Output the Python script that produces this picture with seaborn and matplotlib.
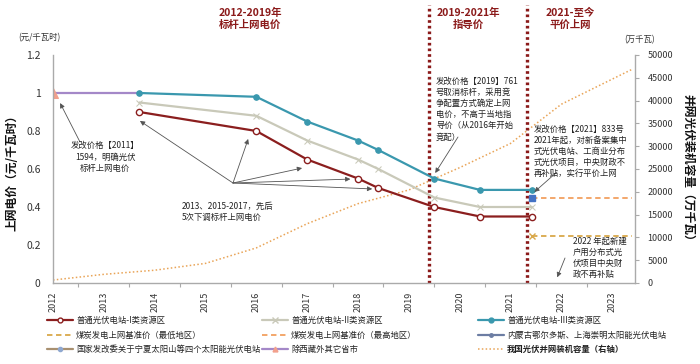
import matplotlib
matplotlib.use('Agg')
import matplotlib.pyplot as plt
from matplotlib.lines import Line2D
from matplotlib.ticker import MultipleLocator
import seaborn as sns

# 电价调整时点（年）与各资源区上网电价（元/千瓦时）
price_years = [2013.7, 2016.0, 2017.0, 2018.0, 2018.4, 2019.5, 2020.4, 2021.42]
price_class1 = [0.90, 0.80, 0.65, 0.55, 0.50, 0.40, 0.35, 0.35]
price_class2 = [0.95, 0.88, 0.75, 0.65, 0.60, 0.45, 0.40, 0.40]
price_class3 = [1.00, 0.98, 0.85, 0.75, 0.70, 0.55, 0.49, 0.49]

# 除西藏外其它省市
early_years = [2012.0, 2013.7]
early_price = [1.0, 1.0]

# 煤电基准价
coal_years = [2021.42, 2023.4]
coal_low = [0.247, 0.247]
coal_high = [0.447, 0.447]

# 并网装机容量（万千瓦）
cap_years = [2012, 2013, 2014, 2015, 2016, 2017, 2018, 2019, 2020, 2021, 2022, 2023.4]
cap_values = [650, 1900, 2800, 4300, 7700, 13000, 17400, 20400, 25300, 30600, 39200, 46900]

policy_breaks = [2019.40, 2021.33]
year_ticks = list(range(2012, 2024))
left_ticks = [0, 0.2, 0.4, 0.6, 0.8, 1.0, 1.2]
left_labels = ['0', '0.2', '0.4', '0.6', '0.8', '1', '1.2']

RED = '#8B1E1E'
GRAY = '#C9C9B9'
TEAL = '#3A98AE'
PURPLE = '#A488C8'
SALMON = '#F2A08C'
GOLD = '#D9A84A'
ORANGE = '#F2A060'
CAP = '#E9A457'
BREAK = '#8B1A1A'
SPINE = '#AAAAAA'

sns.set_theme(style='white')
plt.rcParams['font.family'] = ['Noto Sans CJK SC', 'DejaVu Sans']
plt.rcParams['axes.unicode_minus'] = False

W, H = 700, 364
def fp(x, y):
    return (x / W, 1 - y / H)

fig = plt.figure(figsize=(7, 3.64), dpi=100)
ax = fig.add_axes([53 / W, 1 - 283 / H, (635 - 53) / W, (283 - 55) / H])
ax2 = ax.twinx()

# 右轴：装机容量
sns.lineplot(x=cap_years, y=cap_values, ax=ax2, color=CAP, lw=1.1,
             linestyle=(0, (1, 1.5)), sort=False, estimator=None, legend=False)
ax2.set_ylim(0, 50000)
ax2.yaxis.set_major_locator(MultipleLocator(5000))

# 左轴：电价
sns.lineplot(x=early_years, y=early_price, ax=ax, color=PURPLE, lw=1.6, marker='^',
             markersize=7, markerfacecolor=SALMON, markeredgecolor=SALMON,
             markevery=[0], sort=False, estimator=None, legend=False)
sns.lineplot(x=price_years, y=price_class3, ax=ax, color=TEAL, lw=1.6, marker='o',
             markersize=4, markeredgecolor=TEAL, sort=False, estimator=None, legend=False)
sns.lineplot(x=price_years, y=price_class2, ax=ax, color=GRAY, lw=1.6, marker='x',
             markersize=5, markeredgecolor=GRAY, sort=False, estimator=None, legend=False)
sns.lineplot(x=price_years, y=price_class1, ax=ax, color=RED, lw=1.6, marker='o',
             markersize=4.5, markerfacecolor='white', markeredgecolor=RED,
             markeredgewidth=1, sort=False, estimator=None, legend=False)
sns.lineplot(x=coal_years, y=coal_high, ax=ax, color=ORANGE, lw=1.3, linestyle=(0, (3, 2)),
             sort=False, estimator=None, legend=False)
sns.lineplot(x=coal_years, y=coal_low, ax=ax, color=GOLD, lw=1.3, linestyle=(0, (3, 2)),
             sort=False, estimator=None, legend=False)
ax.plot(coal_years[:1], coal_high[:1], marker='s', ms=5, color='#4472C4', ls='none')
ax.plot(coal_years[:1], coal_low[:1], marker='x', ms=5, color=GOLD, ls='none')

for xb in policy_breaks:
    ax.axvline(xb, ymin=0, ymax=(283 - 5) / (283 - 55), color=BREAK, lw=2.4,
               linestyle=(0, (0.8, 0.9)), clip_on=False, zorder=1)

ax.set_xlim(2012, 2023.45)
ax.set_ylim(0, 1.2)
ax.set_xticks(year_ticks)
ax.set_xticklabels([str(y) for y in year_ticks], rotation=90, fontsize=6.5)
ax.xaxis.set_minor_locator(MultipleLocator(0.5))
ax.set_yticks(left_ticks)
ax.set_yticklabels(left_labels, fontsize=7.5)
ax.tick_params(axis='x', which='both', direction='out', colors='#333333', pad=2)
ax.tick_params(axis='x', which='major', length=4, color=SPINE, width=0.8)
ax.tick_params(axis='x', which='minor', bottom=True, length=3, color=SPINE, width=0.8)
ax.tick_params(axis='y', length=0, pad=9, colors='#333333')
ax2.tick_params(axis='y', direction='out', length=3, color=SPINE, width=0.8, pad=6,
                labelsize=6.5, colors='#333333')
ax.set_xlabel('')
ax.set_ylabel('')
ax2.set_ylabel('')
ax.grid(False)
ax2.grid(False)
for a in (ax, ax2):
    a.spines['top'].set_visible(False)
ax.spines['right'].set_visible(False)
ax2.spines['left'].set_visible(False)
ax2.spines['bottom'].set_visible(False)
for s in ('left', 'bottom'):
    ax.spines[s].set_color(SPINE)
    ax.spines[s].set_linewidth(1)
ax2.spines['right'].set_color(SPINE)
ax2.spines['right'].set_linewidth(1)
ax.set_zorder(ax2.get_zorder() + 1)
ax.patch.set_visible(False)

# 阶段标题
for x, txt in [(250, '2012-2019年\n标杆上网电价'), (468, '2019-2021年\n指导价'),
               (570, '2021-至今\n平价上网')]:
    fig.text(*fp(x, 19), txt, ha='center', va='center', fontsize=7.5,
             fontweight='bold', color=BREAK, linespacing=1.15)

fig.text(*fp(39, 38), '(元/千瓦时)', ha='center', va='center', fontsize=6, color='#333333')
fig.text(*fp(640, 40), '(万千瓦)', ha='center', va='center', fontsize=6, color='#333333')
fig.text(*fp(12, 170), '上网电价（元/千瓦时）', rotation=90, ha='center', va='center',
         fontsize=8.5, fontweight='bold', color='#111111')
fig.text(*fp(688, 170), '并网光伏装机容量（万千瓦）', rotation=270, ha='center', va='center',
         fontsize=8.5, fontweight='bold', color='#111111')

note = dict(fontsize=6, color='#222222', linespacing=1.3)
arrow = dict(arrowstyle='-|>', color='#555555', lw=0.6, mutation_scale=7,
             shrinkA=0, shrinkB=0)

fig.text(*fp(105, 157), '发改价格【2011】\n1594，明确光伏\n标杆上网电价',
         ha='center', va='center', **note)
ax.annotate('', xy=(2012.14, 0.947), xycoords='data', xytext=fp(80, 142),
            textcoords='figure fraction', arrowprops=arrow)

fig.text(*fp(182, 212), '2013、2015-2017，先后\n5次下调标杆上网电价',
         ha='left', va='center', **note)
for tx, ty in [(2013.71, 0.853), (2015.84, 0.758), (2016.90, 0.605),
               (2017.85, 0.547), (2018.28, 0.495)]:
    ax.annotate('', xy=(tx, ty), xycoords='data', xytext=fp(233, 183),
                textcoords='figure fraction', arrowprops=arrow)

fig.text(*fp(436, 77), '发改价格【2019】761\n号取消标杆，采用竞\n争配置方式确定上网\n'
         '电价，不高于当地指\n导价（从2016年开始\n竞配）', ha='left', va='top', **note)
ax.annotate('', xy=(2019.52, 0.579), xycoords='data', xytext=fp(458, 137),
            textcoords='figure fraction', arrowprops=arrow)

fig.text(*fp(534, 125), '发改价格【2021】833号\n2021年起，对新备案集中\n式光伏电站、工商业分布\n'
         '式光伏项目，中央财政不\n再补贴，实行平价上网', ha='left', va='top', **note)
ax.annotate('', xy=(2021.47, 0.479), xycoords='data', xytext=fp(557, 172),
            textcoords='figure fraction', arrowprops=arrow)

fig.text(*fp(573, 237), '2022 年起新建\n户用分布式光\n伏项目中央财\n政不再补贴',
         ha='left', va='top', **note)
ax.annotate('', xy=(2021.92, 0.03), xycoords='data', xytext=fp(565, 258),
            textcoords='figure fraction', arrowprops=arrow)

# 图例（三列）
def h(color, ls='-', marker=None, mfc=None, mec=None, ms=4, lw=1.6):
    return Line2D([], [], color=color, ls=ls, lw=lw, marker=marker,
                  markerfacecolor=mfc or color, markeredgecolor=mec or color, markersize=ms)

cols = [
    [(h(RED, marker='o', mfc='white', mec=RED, ms=3.5), '普通光伏电站-I类资源区'),
     (h(GOLD, ls=(0, (3, 2)), lw=1.3), '煤炭发电上网基准价（最低地区）'),
     (h('#A89070', marker='o', mfc='#8FA8D0', mec='#8FA8D0', ms=3), '国家发改委关于宁夏太阳山等四个太阳能光伏电站')],
    [(h(GRAY, marker='x', ms=4), '普通光伏电站-II类资源区'),
     (h(ORANGE, ls=(0, (3, 2)), lw=1.3), '煤炭发电上网基准价（最高地区）'),
     (h(PURPLE, marker='^', mfc=SALMON, mec=SALMON, ms=3.5), '除西藏外其它省市')],
    [(h(TEAL, marker='o', ms=3.5), '普通光伏电站-III类资源区'),
     (h('#6C7DA3', marker='o', ms=2.5), '内蒙古鄂尔多斯、上海崇明太阳能光伏电站'),
     (h(CAP, ls=(0, (1, 1.5)), lw=1.1), '我国光伏并网装机容量（右轴）')],
]
for xpx, items in zip([47, 262, 478], cols):
    leg = fig.legend([i[0] for i in items], [i[1] for i in items], loc='upper left',
                     bbox_to_anchor=fp(xpx, 316), frameon=False, fontsize=6,
                     handlelength=3.1, handletextpad=0.4, labelspacing=0.65,
                     borderpad=0, borderaxespad=0)
    for t in leg.get_texts():
        t.set_color('#222222')
leg.get_texts()[-1].set_fontweight('bold')

fig.savefig('out.png', dpi=100)
